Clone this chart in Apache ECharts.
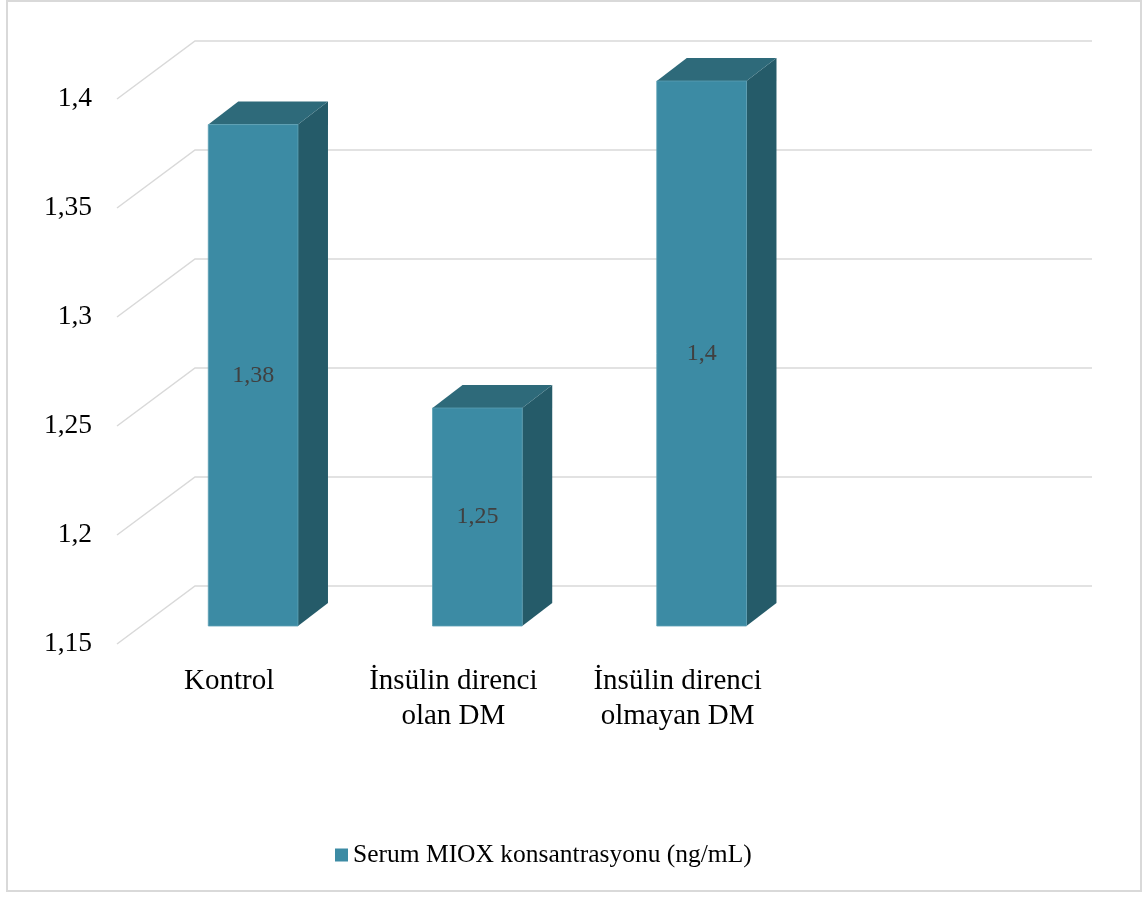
<!DOCTYPE html>
<html>
<head>
<meta charset="utf-8">
<script src="https://cdn.jsdelivr.net/npm/echarts@6/dist/echarts.min.js"></script>
<style>
  html, body { margin: 0; padding: 0; background: #ffffff; }
  #chart { width: 1144px; height: 897px; }
</style>
</head>
<body>
<div id="chart"></div>
<script>
// Group names, measured values and the value-axis range
const categories = ['Kontrol', 'İnsülin direnci\nolan DM', 'İnsülin direnci\nolmayan DM', ''];
const values = [1.38, 1.25, 1.4];
const yMin = 1.15;
const yMax = 1.4;
const yStep = 0.05;
const yTicks = [1.15, 1.2, 1.25, 1.3, 1.35, 1.4];
const seriesName = 'Serum MIOX konsantrasyonu (ng/mL)';

// 3D look: wall depth offset, bar plane offset and bar depth (pixels)
const WALL = [78, -58];
const BAR_PLANE = [24, -18];
const BAR_DEPTH = [30, -23];
const COLORS = { front: '#3c8ba4', top: '#2e6a7a', side: '#255b69', grid: '#d9d9d9' };

const fmt = v => String(+v.toFixed(2)).replace('.', ',');

const chart = echarts.init(document.getElementById('chart'), null, { renderer: 'canvas' });

function renderGridLine(params, api) {
  const cs = params.coordSys;
  const v = api.value(0);
  const y = api.coord([0, v])[1];
  const x0 = cs.x;
  const x1 = cs.x + cs.width;
  return {
    type: 'polyline',
    shape: { points: [[x0, y], [x0 + WALL[0], y + WALL[1]], [x1 + WALL[0], y + WALL[1]]] },
    style: { stroke: COLORS.grid, lineWidth: 1.5, fill: null },
    silent: true
  };
}

function renderBar(params, api) {
  const i = api.value(0);
  const v = api.value(1);
  const base = api.coord([i, yMin]);
  const top = api.coord([i, v]);
  const w = api.size([1, 0])[0] * 0.4;
  const xl = base[0] + BAR_PLANE[0] - w / 2;
  const xr = xl + w;
  const yb = base[1] + BAR_PLANE[1];
  const yt = top[1] + BAR_PLANE[1];
  const dx = BAR_DEPTH[0], dy = BAR_DEPTH[1];
  return {
    type: 'group',
    children: [
      {
        type: 'polygon',
        shape: { points: [[xr, yt], [xr + dx, yt + dy], [xr + dx, yb + dy], [xr, yb]] },
        style: { fill: COLORS.side }
      },
      {
        type: 'polygon',
        shape: { points: [[xl, yt], [xr, yt], [xr + dx, yt + dy], [xl + dx, yt + dy]] },
        style: { fill: COLORS.top }
      },
      {
        type: 'rect',
        shape: { x: xl, y: yt, width: w, height: yb - yt },
        style: { fill: COLORS.front, stroke: '#5c9fb4', lineWidth: 0.8 }
      },
      {
        type: 'text',
        x: (xl + xr) / 2,
        y: (yt + yb) / 2,
        style: {
          text: fmt(v),
          fill: '#404040',
          font: '24px "Liberation Serif", "DejaVu Serif", serif',
          align: 'center',
          verticalAlign: 'middle'
        }
      }
    ]
  };
}

const option = {
  backgroundColor: '#ffffff',
  animation: false,
  grid: { left: 117, right: 130, top: 99, bottom: 253, containLabel: false },
  xAxis: {
    type: 'category',
    data: categories,
    axisLine: { show: false },
    axisTick: { show: false },
    axisLabel: {
      color: '#000000',
      fontFamily: '"Liberation Serif", "Times New Roman", serif',
      fontSize: 29,
      lineHeight: 35,
      margin: 20,
      interval: 0
    }
  },
  yAxis: {
    type: 'value',
    min: yMin,
    max: yMax,
    interval: yStep,
    axisLine: { show: false },
    axisTick: { show: false },
    splitLine: { show: false },
    axisLabel: {
      color: '#000000',
      fontFamily: '"Liberation Serif", "Times New Roman", serif',
      fontSize: 27.5,
      margin: 25,
      formatter: v => fmt(v)
    }
  },
  legend: {
    left: 330,
    top: 837,
    itemWidth: 13,
    itemHeight: 13,
    icon: 'rect',
    data: [seriesName],
    textStyle: {
      color: '#000000',
      fontFamily: '"Liberation Serif", "Times New Roman", serif',
      fontSize: 25.5
    }
  },
  graphic: [
    {
      type: 'rect',
      shape: { x: 7, y: 1, width: 1134, height: 890 },
      style: { fill: null, stroke: '#d9d9d9', lineWidth: 2 },
      silent: true,
      z: 100
    }
  ],
  series: [
    {
      type: 'custom',
      name: 'grid',
      renderItem: renderGridLine,
      data: yTicks.map(v => [v]),
      encode: { y: 0 },
      silent: true,
      z: 1
    },
    {
      type: 'custom',
      name: seriesName,
      renderItem: renderBar,
      itemStyle: { color: COLORS.front },
      data: values.map((v, i) => [i, v]),
      encode: { x: 0, y: 1 },
      z: 2
    }
  ]
};

chart.setOption(option);
</script>
</body>
</html>
